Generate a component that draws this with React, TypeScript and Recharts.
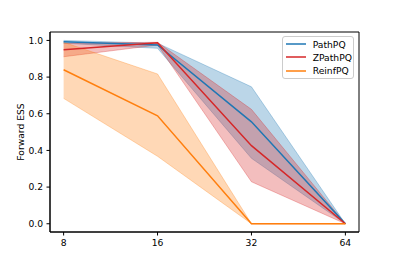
import {
  ComposedChart,
  Area,
  Line,
  XAxis,
  YAxis,
  Legend,
  ReferenceArea,
} from "recharts";

// Forward ESS vs. problem size, mean line + shaded min/max band per method.

const sizes = [8, 16, 32, 64];

const pathMean = [0.993, 0.975, 0.556, 0.0];
const pathLow = [0.985, 0.957, 0.357, 0.0];
const pathHigh = [1.0, 0.985, 0.747, 0.0];

const zpathMean = [0.949, 0.987, 0.426, 0.0];
const zpathLow = [0.911, 0.975, 0.229, 0.0];
const zpathHigh = [0.985, 0.99, 0.624, 0.0];

const reinfMean = [0.84, 0.589, 0.0, 0.0];
const reinfLow = [0.684, 0.368, 0.0, 0.0];
const reinfHigh = [0.99, 0.817, 0.0, 0.0];

const yTicks = [0, 0.2, 0.4, 0.6, 0.8, 1.0];

const series = [
  { key: "path", name: "PathPQ", color: "#1f77b4" },
  { key: "zpath", name: "ZPathPQ", color: "#d62728" },
  { key: "reinf", name: "ReinfPQ", color: "#ff7f0e" },
];

const data = sizes.map((s, i) => ({
  x: Math.log2(s),
  path: pathMean[i],
  pathBand: [pathLow[i], pathHigh[i]],
  zpath: zpathMean[i],
  zpathBand: [zpathLow[i], zpathHigh[i]],
  reinf: reinfMean[i],
  reinfBand: [reinfLow[i], reinfHigh[i]],
}));

const FONT = "'DejaVu Sans', sans-serif";
const xDomain = [3 - 0.145, 6 + 0.145];
const yDomain = [-0.045, 1.046];

function LegendBox() {
  return (
    <div
      style={{
        width: 72,
        boxSizing: "border-box",
        border: "1px solid #cccccc",
        borderRadius: 3,
        background: "rgba(255,255,255,0.8)",
        padding: "0.5px 0 1px 3px",
        fontFamily: FONT,
        fontSize: 9.2,
        color: "#000",
      }}
    >
      {series.map((s) => (
        <div
          key={s.key}
          style={{ display: "flex", alignItems: "center", height: 13.3 }}
        >
          <svg width={20} height={4} style={{ marginRight: 6.7, display: "block" }}>
            <line x1={0} y1={2} x2={20} y2={2} stroke={s.color} strokeWidth={1.5} />
          </svg>
          <span>{s.name}</span>
        </div>
      ))}
    </div>
  );
}

export default function App() {
  return (
    <div style={{ position: "absolute", left: 0, top: 0, width: 399, height: 266, background: "#fff" }}>
      <ComposedChart
        width={399}
        height={266}
        data={data}
        margin={{ top: 32, right: 40, left: 0, bottom: 0 }}
      >
        <XAxis
          dataKey="x"
          type="number"
          domain={xDomain}
          ticks={[3, 4, 5, 6]}
          tickFormatter={(v) => String(Math.round(Math.pow(2, v)))}
          height={34}
          tickSize={3.5}
          tickMargin={3.5}
          allowDataOverflow
          axisLine={{ stroke: "#000", strokeWidth: 1 }}
          tickLine={{ stroke: "#000" }}
          tick={{ fill: "#000", fontSize: 9.2, fontFamily: FONT }}
        />
        <YAxis
          type="number"
          domain={yDomain}
          ticks={yTicks}
          tickFormatter={(v) => Number(v).toFixed(1)}
          width={50}
          tickSize={3.5}
          tickMargin={3.5}
          allowDataOverflow
          axisLine={{ stroke: "#000", strokeWidth: 1 }}
          tickLine={{ stroke: "#000" }}
          tick={{ fill: "#000", fontSize: 9.2, fontFamily: FONT }}
          label={{
            content: (props: any) => {
              const vb = props.viewBox || { x: 0, y: 32, height: 200 };
              const cx = vb.x + 20;
              const cy = vb.y + vb.height / 2;
              return (
                <text
                  x={cx}
                  y={cy}
                  transform={`rotate(-90 ${cx} ${cy})`}
                  textAnchor="middle"
                  dominantBaseline="central"
                  fontSize={9.2}
                  fontFamily={FONT}
                  fill="#000"
                >
                  Forward ESS
                </text>
              );
            },
          }}
        />
        {series.map((s) => [
          <Area
            key={s.key + "Band"}
            dataKey={s.key + "Band"}
            type="linear"
            fill={s.color}
            fillOpacity={0.3}
            stroke={s.color}
            strokeOpacity={0.3}
            strokeWidth={1}
            isAnimationActive={false}
            legendType="none"
            activeDot={false}
          />,
          <Line
            key={s.key}
            dataKey={s.key}
            name={s.name}
            type="linear"
            stroke={s.color}
            strokeWidth={1.5}
            dot={false}
            activeDot={false}
            isAnimationActive={false}
          />,
        ])}
        <ReferenceArea
          x1={xDomain[0]}
          x2={xDomain[1]}
          y1={yDomain[0]}
          y2={yDomain[1]}
          fill="none"
          fillOpacity={0}
          stroke="#000"
          strokeWidth={1}
          ifOverflow="visible"
        />
        <Legend
          layout="vertical"
          align="center"
          verticalAlign="middle"
          content={() => <LegendBox />}
          wrapperStyle={{ left: 282, top: 36, width: 72 }}
        />
      </ComposedChart>
    </div>
  );
}
